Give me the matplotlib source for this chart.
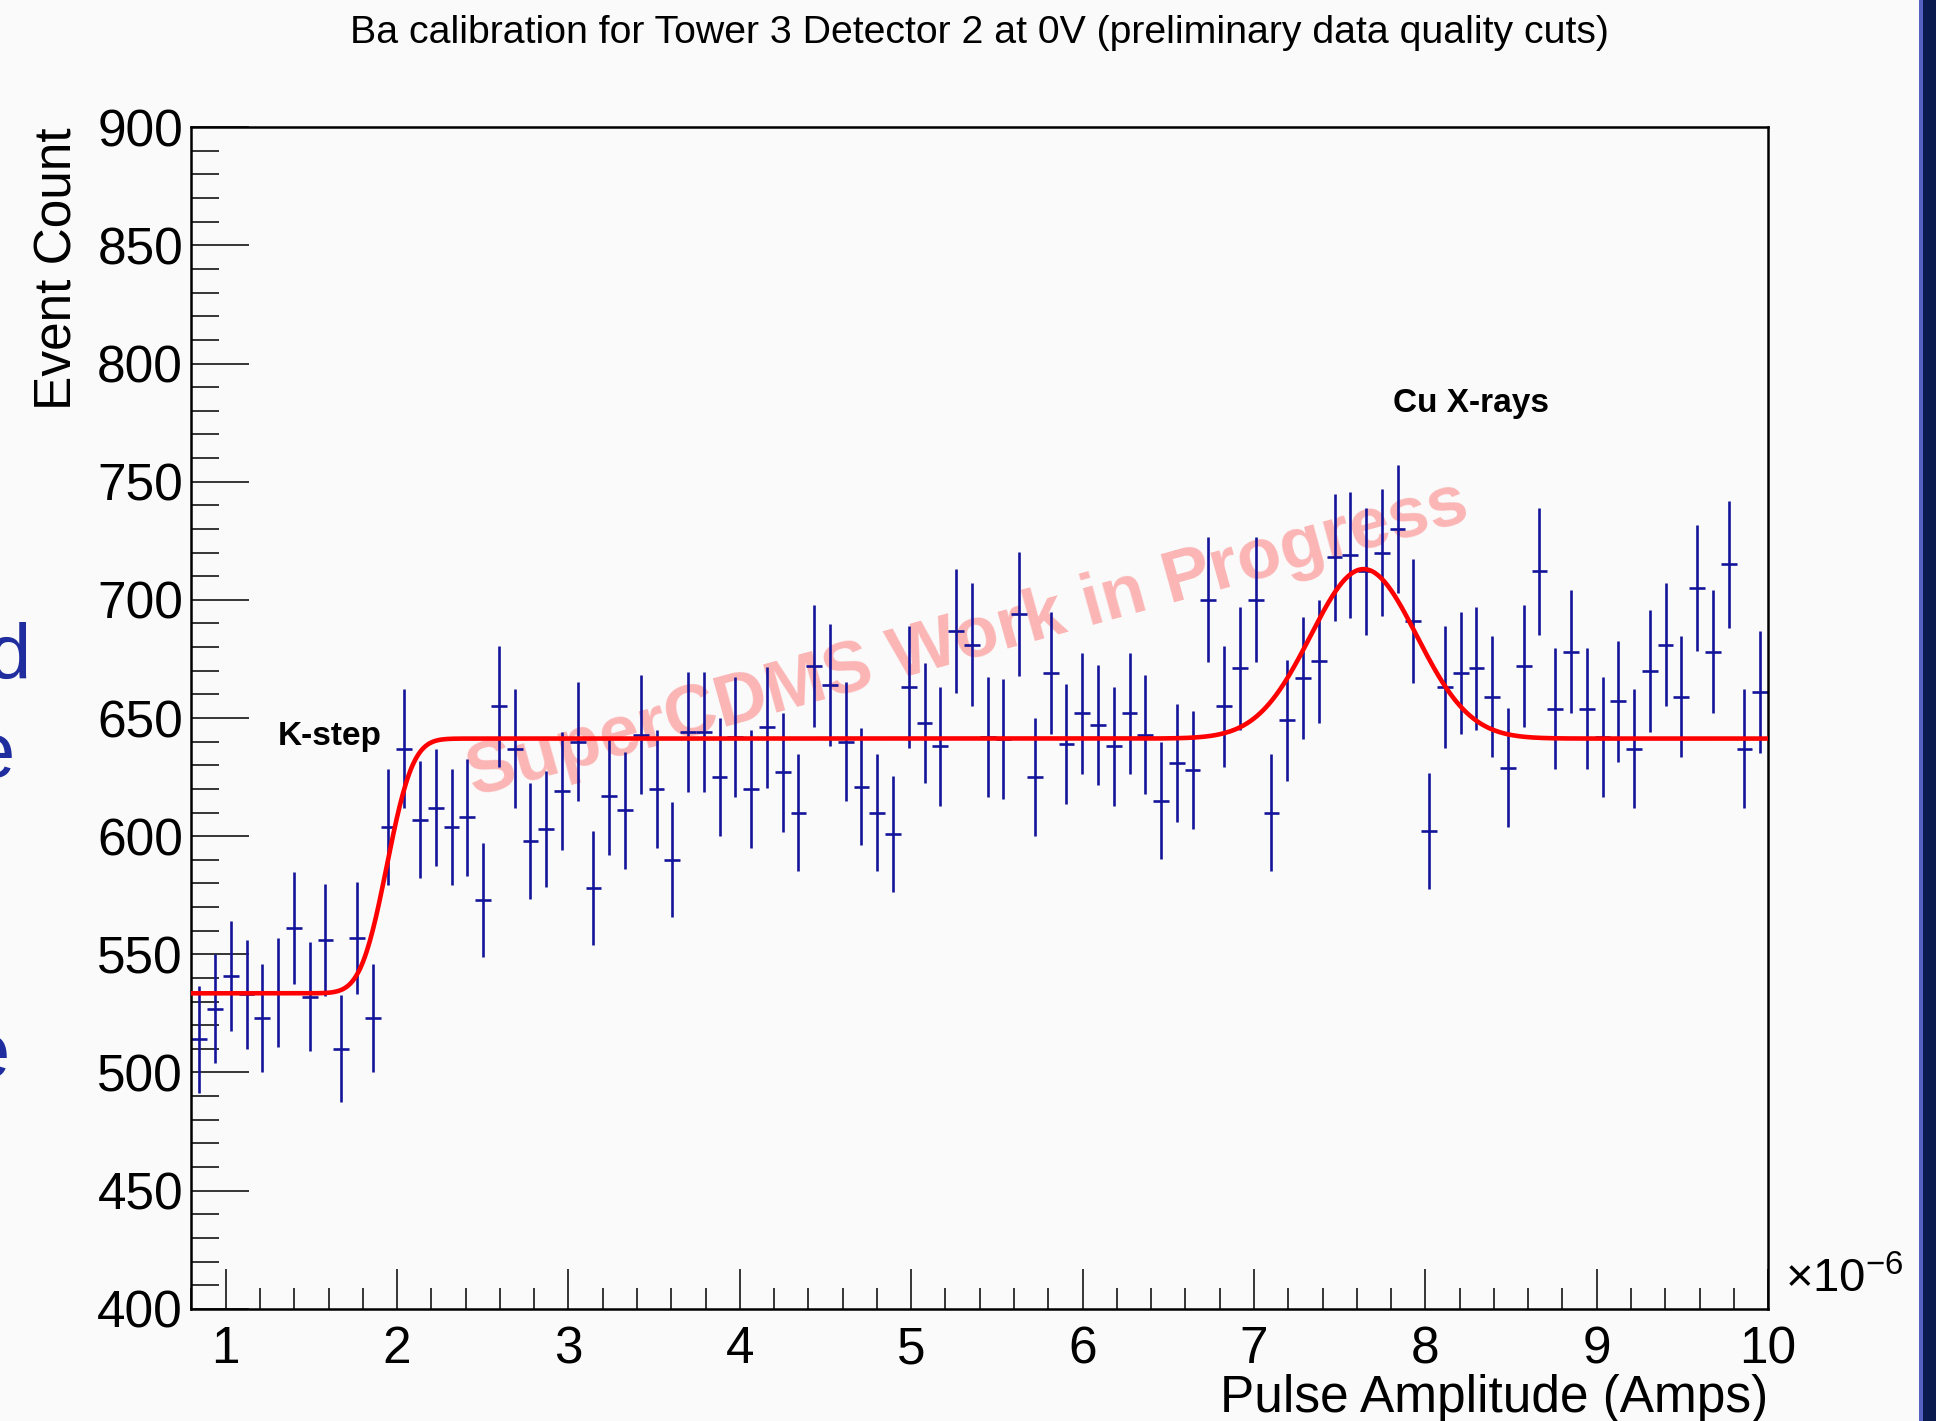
import math
import numpy as np
import matplotlib

matplotlib.use("Agg")
import matplotlib.pyplot as plt
from matplotlib.patches import Rectangle
from matplotlib.ticker import MultipleLocator

plt.rcParams["font.family"] = ["Liberation Sans", "DejaVu Sans"]
plt.rcParams["mathtext.fontset"] = "custom"
plt.rcParams["mathtext.rm"] = "Liberation Sans"

# histogram: 100 bins from 0.8 to 10 (x 1e-6 A)
X_MIN = 0.8
X_MAX = 10.0
N_BINS = 100

counts = [
    514, 527, 541, 533, 523, 534, 561, 532, 556, 510,
    557, 523, 604, 637, 607, 612, 604, 608, 573, 655,
    637, 598, 603, 619, 640, 578, 617, 611, 643, 620,
    590, 644, 644, 625, 642, 620, 646, 627, 610, 672,
    664, 640, 621, 610, 601, 663, 648, 638, 687, 681,
    642, 641, 694, 625, 669, 639, 652, 647, 638, 652,
    643, 615, 631, 628, 700, 655, 671, 700, 610, 649,
    667, 674, 718, 719, 712, 720, 730, 691, 602, 663,
    669, 671, 659, 629, 672, 712, 654, 678, 654, 642,
    657, 637, 670, 681, 659, 705, 678, 715, 637, 661,
]

# fit parameters (erf step + gaussian peak)
fit_low = 533.5
fit_high = 641.3
step_center = 1.94
step_sigma = 0.12
peak_amp = 71.7
peak_center = 7.64
peak_sigma = 0.31

title = "Ba calibration for Tower 3 Detector 2 at 0V (preliminary data quality cuts)"
x_label = "Pulse Amplitude (Amps)"
y_label = "Event Count"
x_ticks = [1, 2, 3, 4, 5, 6, 7, 8, 9, 10]
y_ticks = [400, 450, 500, 550, 600, 650, 700, 750, 800, 850, 900]

BLUE = "#14149a"
BG = "#fafafa"

edges = np.linspace(X_MIN, X_MAX, N_BINS + 1)
centers = 0.5 * (edges[:-1] + edges[1:])
half_w = 0.5 * (edges[1] - edges[0])
y = np.array(counts, dtype=float)
yerr = np.sqrt(y)

xf = np.linspace(X_MIN, X_MAX, 1000)
step = np.array([0.5 * (1 + math.erf((v - step_center) / (math.sqrt(2) * step_sigma))) for v in xf])
fit = fit_low + (fit_high - fit_low) * step + peak_amp * np.exp(-0.5 * ((xf - peak_center) / peak_sigma) ** 2)

fig = plt.figure(figsize=(19.36, 14.21), dpi=100, facecolor=BG)
ax = fig.add_axes([191.4 / 1936, 1 - 1308.8 / 1421, 1576.7 / 1936, 1181.6 / 1421])
ax.set_facecolor(BG)

ax.text(5.33, 683, "SuperCDMS Work in Progress", color="red", alpha=0.28,
        fontsize=52, fontweight="bold", rotation=15.5, rotation_mode="anchor",
        ha="center", va="center", zorder=1)

ax.errorbar(centers, y, xerr=half_w, yerr=yerr, fmt="none", ecolor=BLUE,
            elinewidth=1.9, capsize=0, zorder=2)
ax.plot(xf, fit, color="red", lw=3.3, zorder=3)

ax.set_xlim(X_MIN, X_MAX)
ax.set_ylim(400, 900)
ax.set_xticks(x_ticks)
ax.set_xticklabels([str(t) for t in x_ticks])
ax.set_yticks(y_ticks)
ax.xaxis.set_minor_locator(MultipleLocator(0.2))
ax.yaxis.set_minor_locator(MultipleLocator(10))
ax.tick_params(axis="both", which="both", direction="in", top=False, right=False,
               labelsize=37, width=1.1, color="black")
ax.tick_params(axis="y", which="major", length=42, pad=6)
ax.tick_params(axis="y", which="minor", length=20)
ax.tick_params(axis="x", which="major", length=29, pad=12)
ax.tick_params(axis="x", which="minor", length=15)
for s in ax.spines.values():
    s.set_linewidth(1.8)

ax.text(1.305, 638.5, "K-step", fontsize=24, fontweight="bold", va="baseline")
ax.text(7.81, 779.5, "Cu X-rays", fontsize=24, fontweight="bold", va="baseline")

ax.text(1.0, -0.087, x_label, transform=ax.transAxes, fontsize=37,
        ha="right", va="baseline")
ax.text(-0.0845, 1.0, y_label, transform=ax.transAxes, fontsize=37,
        rotation=90, ha="center", va="top")
ax.text(1.0107, 0.0142, r"$\mathregular{\times10^{-6}}$", transform=ax.transAxes,
        fontsize=34, ha="left", va="baseline")

fig.text(0.506, 1 - 33 / 1421, title, fontsize=28.3, ha="center", va="center")

# slide edges around the screenshot
fig.add_artist(Rectangle((1921 / 1936, 0), 15 / 1936, 1, transform=fig.transFigure,
                         facecolor="#0b1a4e", edgecolor="none"))
fig.add_artist(Rectangle((1919 / 1936, 0), 4 / 1936, 1, transform=fig.transFigure,
                         facecolor="#5560c0", edgecolor="none"))
for txt, xr, yb in [("d", 31, 679), ("e", 15, 777), ("e", 10, 1077)]:
    fig.text(xr / 1936, 1 - yb / 1421, txt, fontsize=56, color="#1f2d9e",
             ha="right", va="baseline")

fig.savefig("out.png", dpi=100, facecolor=BG)
